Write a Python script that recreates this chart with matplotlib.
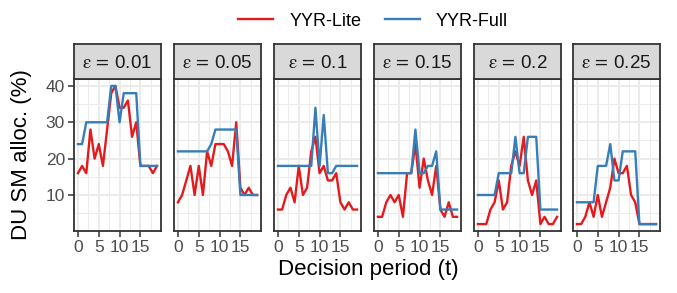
import matplotlib
matplotlib.use('Agg')
import matplotlib.pyplot as plt
from matplotlib.lines import Line2D

plt.rcParams['font.family'] = ['Liberation Sans', 'DejaVu Sans']
plt.rcParams['mathtext.fontset'] = 'stix'

# ---- data ----
t = list(range(20))
epsilons = ['0.01', '0.05', '0.1', '0.15', '0.2', '0.25']

lite_001 = [16, 18, 16, 28, 20, 24, 18, 28, 38, 40, 34, 34, 36, 26, 30, 18, 18, 18, 16, 18]
full_001 = [24, 24, 30, 30, 30, 30, 30, 30, 40, 40, 30, 38, 38, 38, 38, 18, 18, 18, 18, 18]
lite_005 = [8, 10, 14, 18, 10, 18, 10, 22, 18, 24, 24, 24, 22, 18, 30, 12, 10, 12, 10, 10]
full_005 = [22, 22, 22, 22, 22, 22, 22, 22, 24, 28, 28, 28, 28, 28, 28, 10, 10, 10, 10, 10]
lite_010 = [6, 6, 10, 12, 8, 18, 10, 12, 22, 26, 16, 18, 14, 14, 16, 8, 6, 8, 6, 6]
full_010 = [18, 18, 18, 18, 18, 18, 18, 18, 18, 34, 18, 32, 16, 16, 18, 18, 18, 18, 18, 18]
lite_015 = [4, 4, 8, 10, 8, 10, 4, 16, 16, 24, 12, 20, 14, 10, 18, 6, 4, 8, 4, 4]
full_015 = [16, 16, 16, 16, 16, 16, 16, 16, 16, 28, 16, 16, 18, 18, 22, 6, 6, 6, 6, 6]
lite_020 = [2, 2, 2, 6, 8, 14, 6, 8, 18, 22, 18, 26, 14, 10, 14, 2, 4, 2, 2, 4]
full_020 = [10, 10, 10, 10, 10, 16, 16, 16, 16, 26, 16, 16, 26, 26, 26, 6, 6, 6, 6, 6]
lite_025 = [2, 2, 4, 8, 4, 10, 4, 8, 12, 20, 16, 16, 18, 10, 8, 2, 2, 2, 2, 2]
full_025 = [8, 8, 8, 8, 8, 18, 18, 18, 24, 14, 14, 22, 22, 22, 22, 2, 2, 2, 2, 2]

lite_all = [lite_001, lite_005, lite_010, lite_015, lite_020, lite_025]
full_all = [full_001, full_005, full_010, full_015, full_020, full_025]
series_names = ['YYR-Lite', 'YYR-Full']
x_ticks = [0, 5, 10, 15]
y_ticks = [10, 20, 30, 40]

RED = '#E41A1C'
BLUE = '#377EB8'

W, H = 677, 293
fig = plt.figure(figsize=(W / 100, H / 100), dpi=100)
lefts = [74, 174, 274, 374, 474, 573]
pw = 87
ptop, pbot = 79, 231
stop = 44

for i, (eps, lite, full) in enumerate(zip(epsilons, lite_all, full_all)):
    l = lefts[i]
    ax = fig.add_axes([l / W, (H - pbot) / H, pw / W, (pbot - ptop) / H])
    ax.plot(t, lite, color=RED, lw=1.7, solid_joinstyle='round')
    ax.plot(t, full, color=BLUE, lw=1.7, solid_joinstyle='round')
    ax.set_xlim(-0.95, 19.95)
    ax.set_ylim(0.1, 41.9)
    ax.set_xticks(x_ticks)
    ax.set_xticks([2.5, 7.5, 12.5, 17.5], minor=True)
    ax.set_yticks(y_ticks)
    ax.set_yticks([5, 15, 25, 35], minor=True)
    ax.grid(which='major', color='#EBEBEB', lw=1.4)
    ax.grid(which='minor', color='#EBEBEB', lw=0.7)
    ax.set_axisbelow(True)
    ax.tick_params(which='minor', length=0)
    ax.tick_params(which='major', length=4, width=1.1, color='#333333',
                   labelcolor='#4D4D4D', labelsize=12.5, pad=2.5)
    for s in ax.spines.values():
        s.set_color('#333333')
        s.set_linewidth(1.3)
    if i > 0:
        ax.tick_params(axis='y', left=False, labelleft=False)

    sax = fig.add_axes([l / W, (H - ptop) / H, pw / W, (ptop - stop) / H])
    sax.set_facecolor('#D9D9D9')
    sax.set_xticks([])
    sax.set_yticks([])
    for s in sax.spines.values():
        s.set_color('#333333')
        s.set_linewidth(1.3)
    sax.text(0.5, 0.45, r'$\mathrm{\varepsilon}\:=\:$' + eps, ha='center', va='center',
             fontsize=13.5, color='#1A1A1A', transform=sax.transAxes)

fig.text(22 / W, 1 - 155 / H, 'DU SM alloc. (%)', rotation=90, ha='center', va='center',
         fontsize=16, color='black')
fig.text(368 / W, 1 - 270 / H, 'Decision period (t)', ha='center', va='center',
         fontsize=16, color='black')

handles = [Line2D([], [], color=RED, lw=1.7), Line2D([], [], color=BLUE, lw=1.7)]
fig.legend(handles, series_names, loc='center', bbox_to_anchor=(373 / W, 1 - 21 / H),
           ncol=2, frameon=False, fontsize=13, handlelength=1.95, handletextpad=0.9,
           columnspacing=1.3, borderpad=0, borderaxespad=0)

fig.savefig('out.png', dpi=100)
